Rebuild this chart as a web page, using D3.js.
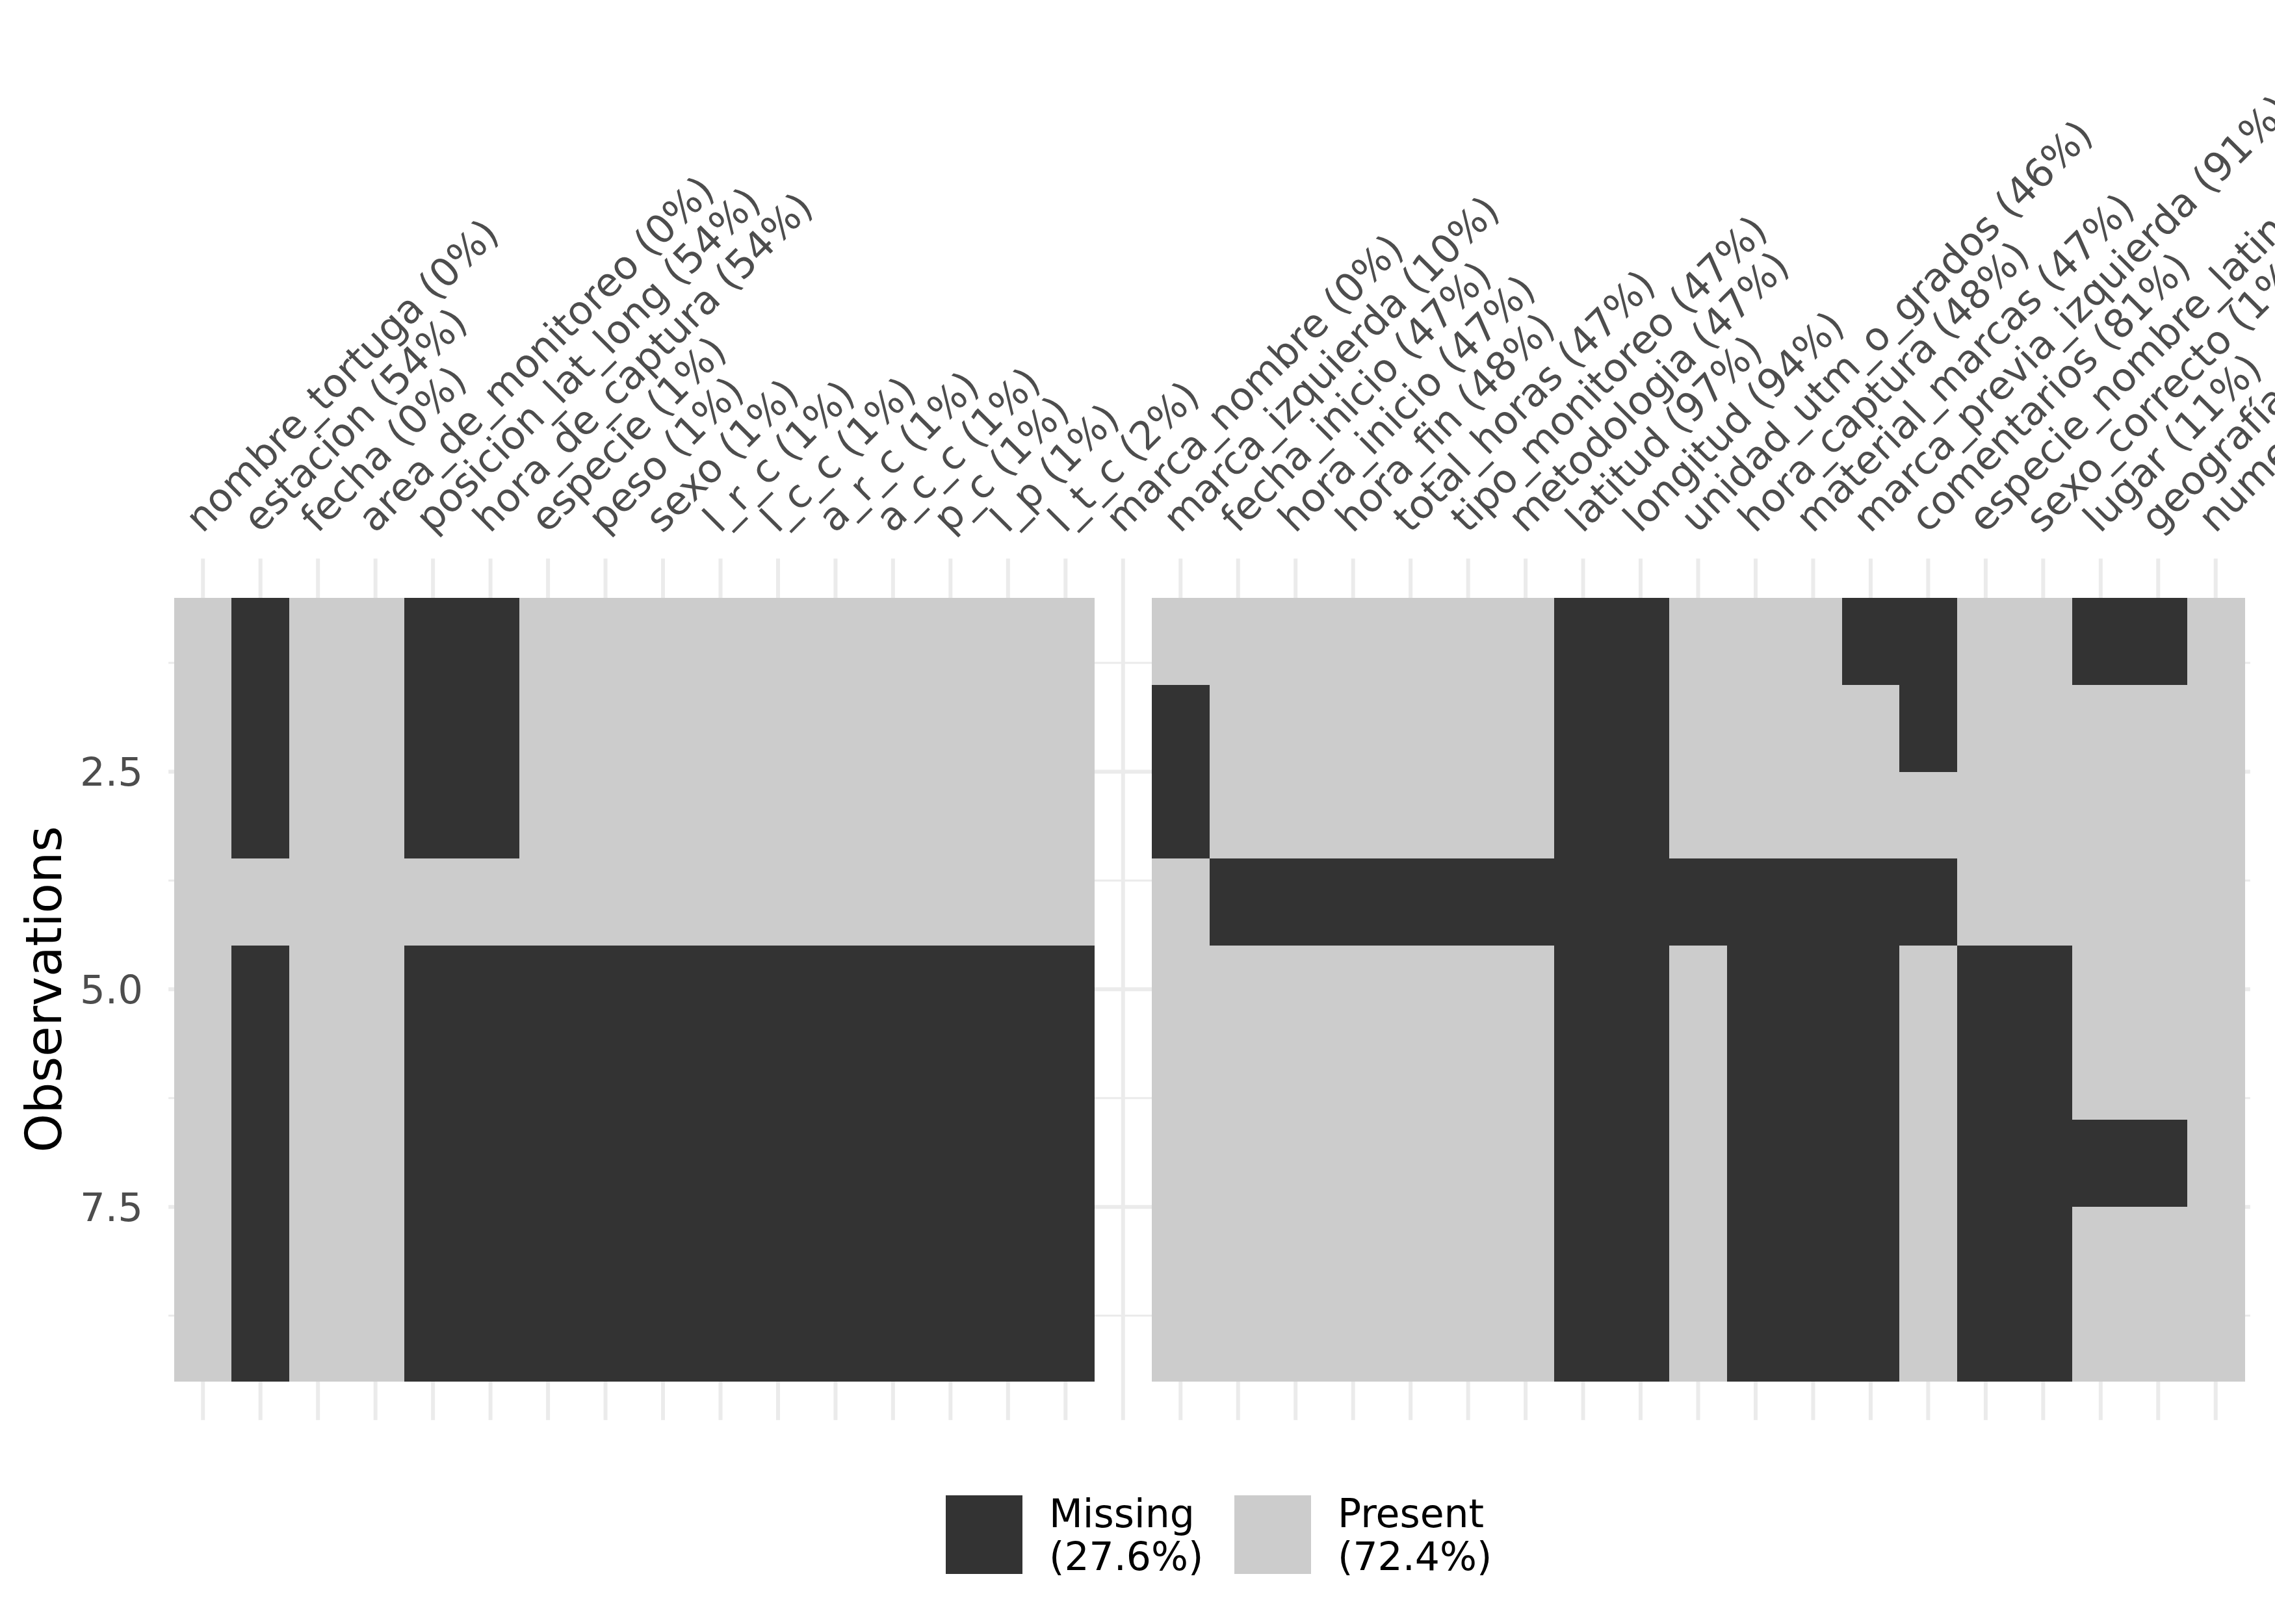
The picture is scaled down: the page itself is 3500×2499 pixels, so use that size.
<!DOCTYPE html>
<html>
<head>
<meta charset="utf-8">
<script src="https://cdn.jsdelivr.net/npm/d3@7"></script>
<style>
  html, body { margin: 0; padding: 0; background: #ffffff; }
  svg { display: block; }
  text { font-family: "DejaVu Sans", sans-serif; }
</style>
</head>
<body>
<script>
// ---------------- data ----------------
const variables = [
  "nombre_tortuga", "estacion", "fecha", "area_de_monitoreo", "posicion_lat_long",
  "hora_de_captura", "especie", "peso", "sexo", "l_r_c", "l_c_c", "a_r_c", "a_c_c",
  "p_c", "l_p", "l_t_c", "marca_nombre", "marca_izquierda", "fecha_inicio",
  "hora_inicio", "hora_fin", "total_horas", "tipo_monitoreo", "metodologia",
  "latitud", "longitud", "unidad_utm_o_grados", "hora_captura", "material_marcas",
  "marca_previa_izquierda", "comentarios", "especie_nombre_latino", "sexo_correcto",
  "lugar", "geografía", "numero"
];
const missingPct = [
  0, 54, 0, 0, 54, 54, 1, 1, 1, 1, 1, 1, 1, 1, 1, 2, 0, 10, 47, 47, 48, 47, 47, 47,
  97, 94, 46, 48, 47, 91, 81, 1, 1, 11, 1, 0
];
// one row per observation (1..9); 1 = missing, 0 = present, null = no tile
const observations = [
  [0,1,0,0,1,1,0,0,0,0,0,0,0,0,0,0,null,0,0,0,0,0,0,0,1,1,0,0,0,1,1,0,0,1,1,0],
  [0,1,0,0,1,1,0,0,0,0,0,0,0,0,0,0,null,1,0,0,0,0,0,0,1,1,0,0,0,0,1,0,0,0,0,0],
  [0,1,0,0,1,1,0,0,0,0,0,0,0,0,0,0,null,1,0,0,0,0,0,0,1,1,0,0,0,0,0,0,0,0,0,0],
  [0,0,0,0,0,0,0,0,0,0,0,0,0,0,0,0,null,0,1,1,1,1,1,1,1,1,1,1,1,1,1,0,0,0,0,0],
  [0,1,0,0,1,1,1,1,1,1,1,1,1,1,1,1,null,0,0,0,0,0,0,0,1,1,0,1,1,1,0,1,1,0,0,0],
  [0,1,0,0,1,1,1,1,1,1,1,1,1,1,1,1,null,0,0,0,0,0,0,0,1,1,0,1,1,1,0,1,1,0,0,0],
  [0,1,0,0,1,1,1,1,1,1,1,1,1,1,1,1,null,0,0,0,0,0,0,0,1,1,0,1,1,1,0,1,1,1,1,0],
  [0,1,0,0,1,1,1,1,1,1,1,1,1,1,1,1,null,0,0,0,0,0,0,0,1,1,0,1,1,1,0,1,1,0,0,0],
  [0,1,0,0,1,1,1,1,1,1,1,1,1,1,1,1,null,0,0,0,0,0,0,0,1,1,0,1,1,1,0,1,1,0,0,0]
];
const yTicks = [2.5, 5.0, 7.5];
const yMinorTicks = [1.25, 3.75, 6.25, 8.75];
const legendKeys = ["Missing", "Present"];
const legendPct = [27.6, 72.4];
const yTitle = "Observations";

// ---------------- layout ----------------
const W = 3500, H = 2499;
const svg = d3.select("body").append("svg").attr("width", W).attr("height", H);

const x = d3.scaleBand().domain(d3.range(variables.length)).range([268, 3453]).padding(0);
const bw = x.bandwidth();
const y = d3.scaleLinear().domain([0.05, 9.95]).range([859.4, 2185.3]);
const fill = d3.scaleOrdinal().domain([1, 0]).range(["#333333", "#CCCCCC"]);

const px0 = x.range()[0] - 0.1 * bw, px1 = x.range()[1] + 0.1 * bw;
const py0 = y.range()[0], py1 = y.range()[1];

// grid
const grid = svg.append("g");
grid.selectAll("line.minor").data(yMinorTicks).join("line")
  .attr("x1", px0).attr("x2", px1).attr("y1", d => y(d)).attr("y2", d => y(d))
  .attr("stroke", "#EBEBEB").attr("stroke-width", 3);
grid.selectAll("line.major").data(yTicks).join("line")
  .attr("x1", px0).attr("x2", px1).attr("y1", d => y(d)).attr("y2", d => y(d))
  .attr("stroke", "#EBEBEB").attr("stroke-width", 6);
grid.selectAll("line.vx").data(d3.range(variables.length)).join("line")
  .attr("x1", d => x(d) + bw / 2).attr("x2", d => x(d) + bw / 2)
  .attr("y1", py0).attr("y2", py1)
  .attr("stroke", "#EBEBEB").attr("stroke-width", 6);

// tiles
const cells = [];
observations.forEach((row, ri) => row.forEach((v, ci) => {
  if (v !== null) cells.push({ row: ri + 1, col: ci, v });
}));
svg.append("g").attr("shape-rendering", "crispEdges")
  .selectAll("rect").data(cells).join("rect")
  .attr("x", d => x(d.col))
  .attr("width", bw + 0.5)
  .attr("y", d => y(d.row - 0.5))
  .attr("height", d => y(d.row + 0.5) - y(d.row - 0.5) + 0.5)
  .attr("fill", d => fill(d.v));

// y axis labels
svg.append("g").selectAll("text").data(yTicks).join("text")
  .attr("x", 220).attr("y", d => y(d)).attr("dy", "0.36em")
  .attr("text-anchor", "end").attr("font-size", 61).attr("fill", "#4D4D4D")
  .text(d => d3.format(".1f")(d));

// y title
svg.append("text")
  .attr("transform", `translate(94,${(py0 + py1) / 2}) rotate(-90)`)
  .attr("text-anchor", "middle").attr("font-size", 76).attr("fill", "#000000")
  .text(yTitle);

// x labels on top
svg.append("g").selectAll("text").data(variables).join("text")
  .attr("transform", (d, i) => `translate(${x(i) + bw / 2 - 1},822) rotate(-45)`)
  .attr("text-anchor", "start").attr("font-size", 60.5).attr("fill", "#4D4D4D")
  .text((d, i) => `${d} (${missingPct[i]}%)`);

// legend
const legendX = [1455, 1899];
const lg = svg.append("g");
legendKeys.forEach((k, i) => {
  lg.append("rect").attr("x", legendX[i]).attr("y", 2301).attr("width", 118).attr("height", 121)
    .attr("fill", fill(i === 0 ? 1 : 0));
  const t = lg.append("text").attr("font-size", 60).attr("fill", "#000000");
  t.append("tspan").attr("x", legendX[i] + 159).attr("y", 2350).text(k);
  t.append("tspan").attr("x", legendX[i] + 159).attr("y", 2416).text(`(${legendPct[i]}%)`);
});
</script>
</body>
</html>
